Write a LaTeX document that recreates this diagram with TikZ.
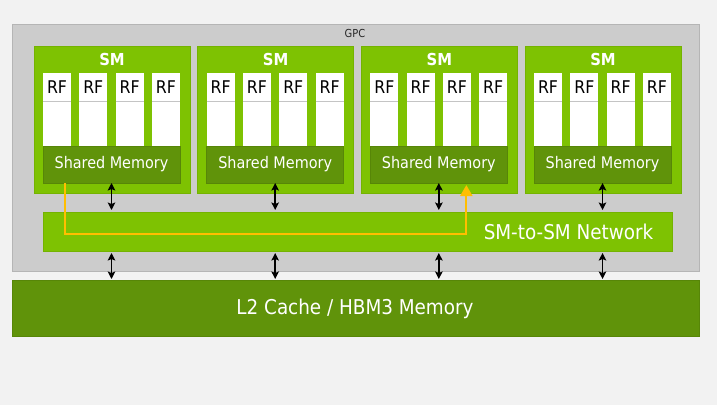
\documentclass[tikz,border=0pt]{standalone}
\usepackage{fontspec}
\setmainfont{DejaVu Sans}
\newfontfamily\condf{DejaVu Sans Condensed}
\usetikzlibrary{arrows.meta,calc}
\definecolor{bgc}{HTML}{F2F2F2}
\definecolor{gpcgray}{HTML}{CCCCCC}
\definecolor{gpcedge}{HTML}{B5B5B5}
\definecolor{smgreen}{HTML}{7EC202}
\definecolor{smedge}{HTML}{74B300}
\definecolor{dkgreen}{HTML}{60930A}
\definecolor{dkedge}{HTML}{578608}
\definecolor{yel}{HTML}{FFBE00}
\definecolor{divgray}{HTML}{C4C4C4}
\tikzset{
  gpcbox/.style={draw=gpcedge, fill=gpcgray, line width=0.8pt, minimum width=687pt, minimum height=247pt, inner sep=0pt, outer sep=0pt, anchor=north west},
  smbox/.style={draw=smedge, fill=smgreen, line width=0.6pt, minimum width=156pt, minimum height=147pt, inner sep=0pt, outer sep=0pt, anchor=north west},
  smlabel/.style={text=white, font=\condf\bfseries\fontsize{16.5}{18}\selectfont, inner sep=0pt},
  rfbox/.style={fill=white, minimum width=28pt, minimum height=28pt, inner sep=0pt, outer sep=0pt, anchor=north west, font=\condf\fontsize{17.5}{19}\selectfont, text=black},
  shmbox/.style={fill=dkgreen, draw=dkedge, line width=0.5pt, minimum width=137pt, minimum height=37pt, inner sep=0pt, outer sep=0pt, anchor=north west, text=white, font=\condf\fontsize{16}{18}\selectfont},
  netbox/.style={fill=smgreen, draw=smedge, line width=0.5pt, minimum width=629pt, minimum height=39pt, inner sep=0pt, outer sep=0pt, anchor=north west},
  bigtext/.style={text=white, font=\condf\fontsize{20.4}{24}\selectfont, inner sep=0pt},
  l2box/.style={fill=dkgreen, draw=dkedge, line width=0.5pt, minimum width=687pt, minimum height=56pt, inner sep=0pt, outer sep=0pt, anchor=north west},
  darrow/.style={black, line width=1.6pt, {Stealth[length=7.5pt,width=7.5pt,inset=1.5pt]}-{Stealth[length=7.5pt,width=7.5pt,inset=1.5pt]}},
  yarrow/.style={yel, line width=2.2pt, -{Triangle[length=11pt,width=12pt]}},
}
\begin{document}
\begin{tikzpicture}[x=1pt,y=-1pt]
\fill[bgc] (0,0) rectangle (717,405);
\useasboundingbox (0,0) rectangle (717,405);
% GPC container
\node[gpcbox] (gpc) at (12,24) {};
\node[text=black!85, font=\condf\fontsize{11}{13}\selectfont, inner sep=0pt] (gpclabel) at (355,33.5) {GPC};
% SMs
\foreach \i in {1,...,4} {
  \pgfmathsetmacro\sx{34+163.67*(\i-1)}
  \node[smbox] (sm\i) at (\sx,46) {};
  \node[smlabel] (smt\i) at (\sx+78,59) {SM};
  \foreach \j in {1,...,4} {
    \pgfmathsetmacro\rx{\sx+9+36.3*(\j-1)}
    \node[rfbox] (rf\i\j) at (\rx,73) {RF};
    \fill[white] (\rx,101) rectangle ++(28,45);
    \draw[divgray, line width=0.6pt] (\rx,101) -- ++(28,0);
  }
  \node[shmbox] (shm\i) at (\sx+9,146) {Shared Memory};
}
% network
\node[netbox] (net) at (43,212) {};
\node[bigtext] (nettext) at (568.5,231.5) {SM-to-SM Network};
% L2
\node[l2box] (l2) at (12,280) {};
\node[bigtext] (l2text) at (355,308.5) {L2 Cache / HBM3 Memory};
% arrows
\foreach \i in {1,...,4} {
  \draw[darrow, shorten >=2pt] (shm\i.south) -- (shm\i.south |- net.north);
  \draw[darrow, shorten <=2pt, shorten >=1pt] (shm\i.south |- net.south) -- (shm\i.south |- l2.north);
}
% yellow path
\coordinate (ya) at ([xshift=22pt]shm1.south west);
\coordinate (yb) at ([xshift=96pt,yshift=-2pt]shm3.south west);
\draw[yarrow] (ya) -- ++(0,51) -| (yb);
\end{tikzpicture}
\end{document}
